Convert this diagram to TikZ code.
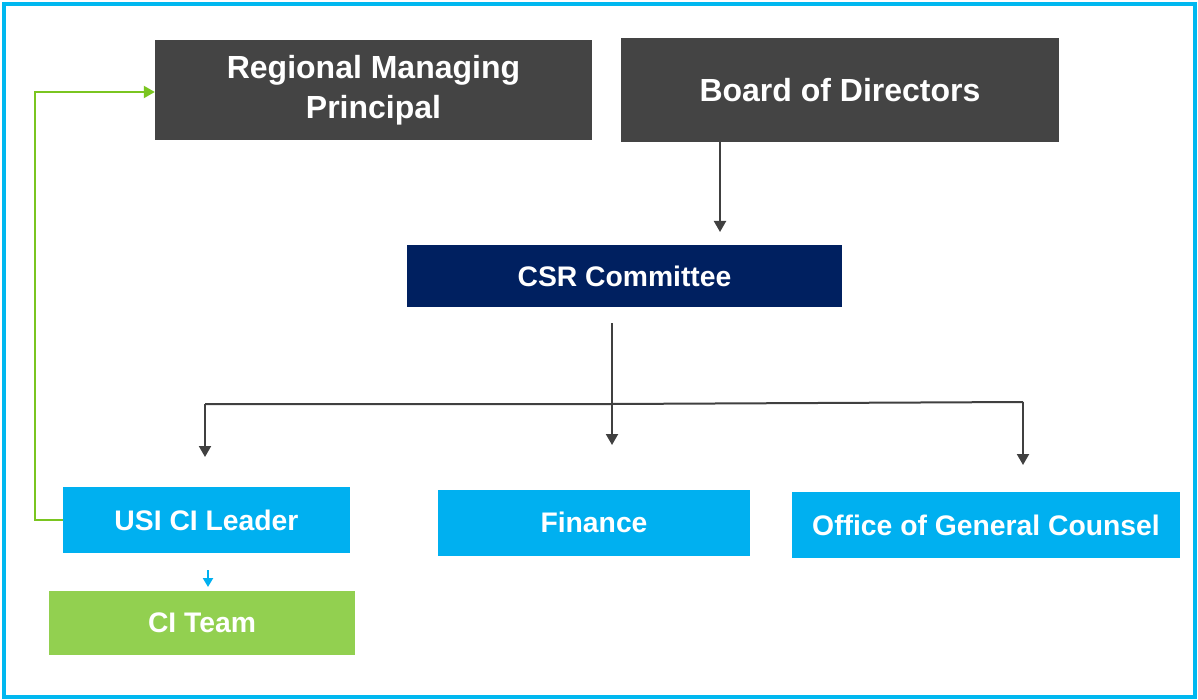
\documentclass[tikz,border=0pt]{standalone}
\usepackage{fontspec}
\setmainfont{Liberation Sans}
\usetikzlibrary{arrows.meta}
\definecolor{darkbox}{HTML}{444444}
\definecolor{navybox}{HTML}{002060}
\definecolor{cyanbox}{HTML}{00B0F0}
\definecolor{greenbox}{HTML}{92D050}
\definecolor{framecol}{HTML}{00B8F0}
\definecolor{linecol}{HTML}{404040}
\definecolor{greenline}{HTML}{7AC520}
\tikzset{
  orgbox/.style={inner sep=0pt, align=center, text=white, font=\bfseries},
  bigtext/.style={font=\fontsize{32}{40}\selectfont\bfseries},
  smalltext/.style={font=\fontsize{28.3}{34}\selectfont\bfseries},
  conn/.style={draw=linecol, line width=2pt, -{Triangle[length=11pt,width=12pt]}},
  plain/.style={draw=linecol, line width=2pt},
}
\begin{document}
\begin{tikzpicture}[x=1pt,y=-1pt]
\useasboundingbox (0,0) rectangle (1198,700);
\fill[white] (0,0) rectangle (1198,700);
\draw[framecol, line width=4pt] (4,4) rectangle (1195,697);

\node[orgbox, bigtext, fill=darkbox, minimum width=437pt, minimum height=100pt] (rmp) at (373.5,90) {Regional Managing\\Principal};
\node[orgbox, bigtext, fill=darkbox, minimum width=438pt, minimum height=104pt] (bod) at (840,90) {Board of Directors};
\node[orgbox, smalltext, fill=navybox, minimum width=435pt, minimum height=62pt] (csr) at (624.5,276) {CSR Committee};
\node[orgbox, smalltext, fill=cyanbox, minimum width=287pt, minimum height=66pt] (usi) at (206.5,520) {USI CI Leader};
\node[orgbox, smalltext, fill=cyanbox, minimum width=312pt, minimum height=66pt] (fin) at (594,522.5) {Finance};
\node[orgbox, smalltext, fill=cyanbox, minimum width=388pt, minimum height=66pt] (ogc) at (986,525) {Office of General Counsel};
\node[orgbox, smalltext, fill=greenbox, minimum width=306pt, minimum height=64pt] (cit) at (202,623) {CI Team};

% coordinates
\coordinate (bodarr) at (720,232);
\coordinate (csrtop) at (612,323);
\coordinate (bus) at (612,404);
\coordinate (busL) at (205,404);
\coordinate (busR) at (1023,402);
\coordinate (arrL) at (205,457);
\coordinate (arrM) at (612,445);
\coordinate (arrR) at (1023,465);
\coordinate (gcorner1) at (35,520);
\coordinate (gcorner2) at (35,92);
\coordinate (citarr) at (208,587);

\draw[conn] (bod.south -| bodarr) -- (bodarr);
\draw[conn] (csrtop) -- (arrM);
\draw[plain] (busL) -- (bus) -- (busR);
\draw[conn] (busL) -- (arrL);
\draw[conn] (busR) -- (arrR);

\draw[greenline, line width=2pt, -{Triangle[length=11pt,width=12pt]}] (usi.west) -- (gcorner1) -- (gcorner2) -- (rmp.west |- gcorner2);

\draw[cyanbox, line width=2pt, -{Triangle[length=9pt,width=10pt]}] (usi.south -| citarr) ++(0,17) -- (citarr);
\end{tikzpicture}
\end{document}
